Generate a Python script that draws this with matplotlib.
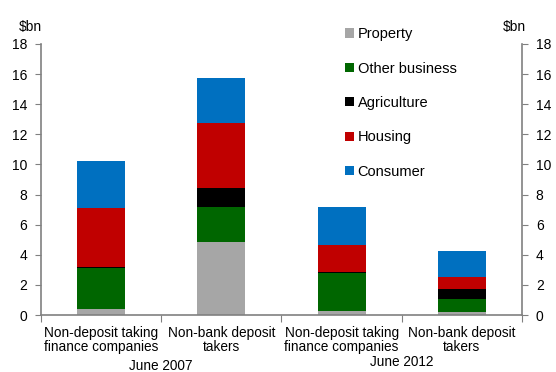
import matplotlib.pyplot as plt
from matplotlib.patches import Patch

plt.rcParams['font.family'] = ['Liberation Sans', 'DejaVu Sans']

# data ($bn)
categories = ['Non-deposit taking\nfinance companies', 'Non-bank deposit\ntakers',
              'Non-deposit taking\nfinance companies', 'Non-bank deposit\ntakers']
groups = ['June 2007', 'June 2012']
property_ = [0.38, 4.83, 0.29, 0.22]
other_business = [2.76, 2.34, 2.50, 0.84]
agriculture = [0.07, 1.29, 0.09, 0.64]
housing = [3.92, 4.27, 1.75, 0.80]
consumer = [3.10, 2.99, 2.54, 1.75]

series = [('Property', property_, '#a6a6a6'),
          ('Other business', other_business, '#006600'),
          ('Agriculture', agriculture, '#000000'),
          ('Housing', housing, '#c00000'),
          ('Consumer', consumer, '#0070c0')]

fig = plt.figure(figsize=(5.56, 3.72), dpi=100)
ax = fig.add_axes([0.0737, 0.153, 0.865, 0.729])

x = list(range(len(categories)))
bottom = [0.0] * len(categories)
for name, vals, col in series:
    ax.bar(x, vals, width=0.4, bottom=bottom, color=col, edgecolor='none')
    bottom = [b + v for b, v in zip(bottom, vals)]

ax.set_xlim(-0.5, len(categories) - 0.5)
ax.set_ylim(0, 18)
ax.set_yticks(range(0, 19, 2))

grey = '#808080'
ax.spines['top'].set_visible(False)
for s in ['left', 'right', 'bottom']:
    ax.spines[s].set_color(grey)
    ax.spines[s].set_linewidth(1.2)

ax.tick_params(axis='y', direction='out', length=4, color=grey, labelsize=10,
               left=True, right=True, labelleft=True, labelright=True, pad=6)

# category boundaries as major ticks, labels on minor ticks
ax.set_xticks([i - 0.5 for i in range(len(categories) + 1)])
ax.set_xticklabels([])
ax.set_xticks(x, minor=True)
ax.set_xticklabels(categories, minor=True, linespacing=1.0)
ax.tick_params(axis='x', which='major', direction='out', length=5, color=grey)
ax.tick_params(axis='x', which='minor', length=0, labelsize=9.8, pad=8)

fig.text(0.033, 0.927, '$bn', fontsize=10, ha='left', va='center')
fig.text(0.905, 0.927, '$bn', fontsize=10, ha='left', va='center')

fig.text(0.29, 0.016, groups[0], fontsize=9.8, ha='center', va='center')
fig.text(0.722, 0.026, groups[1], fontsize=9.8, ha='center', va='center')

handles = [Patch(facecolor=col, edgecolor='none', label=name) for name, vals, col in series]
fig.legend(handles=handles, loc='upper left', bbox_to_anchor=(0.621, 0.927),
           frameon=False, fontsize=10.5, handlelength=0.6, handleheight=0.6,
           handletextpad=0.25, labelspacing=1.4, borderaxespad=0, borderpad=0)

fig.savefig('out.png', dpi=100)
